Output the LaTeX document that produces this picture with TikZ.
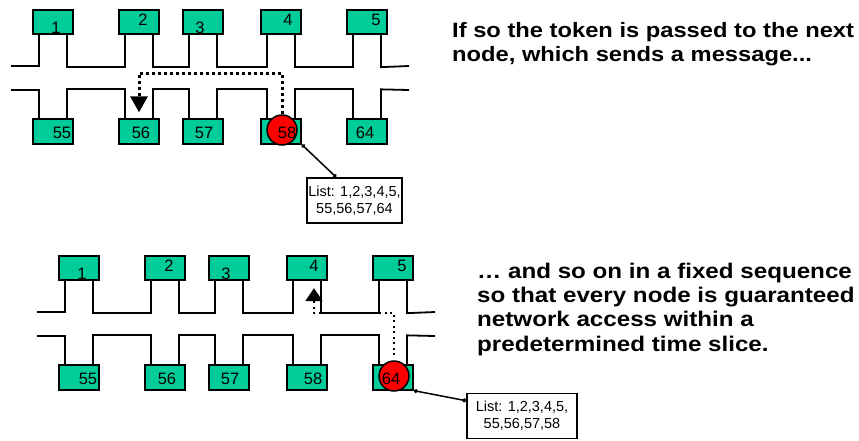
\documentclass[tikz,border=0pt]{standalone}
\usepackage{fontspec}
\setmainfont{Liberation Sans}
\newfontfamily\notefont{Liberation Sans}[FakeStretch=1.14]
\usepackage{tikz}
\usetikzlibrary{arrows.meta, calc}
\definecolor{stationgreen}{RGB}{0,204,153}
\tikzset{
  station/.style={draw, line width=1.8pt, fill=stationgreen, minimum width=40pt, minimum height=24.5pt, inner sep=0pt},
  tap/.style={line width=1.8pt},
  tag/.style={inner sep=0pt, font=\fontsize{16.5}{18}\selectfont},
  token/.style={circle, draw, line width=1.5pt, fill=red, minimum size=30pt, inner sep=0pt},
  hopbig/.style={line width=3pt, dash pattern=on 3pt off 3pt, -{Triangle[width=17pt,length=16pt]}},
  hopsmall/.style={line width=2pt, dash pattern=on 2pt off 3.5pt, -{Triangle[width=17pt,length=13pt]}},
  tieline/.style={line width=1.5pt, {Circle[length=4pt]}-{Circle[length=4pt]}},
  listbox/.style={draw, line width=1.5pt, fill=white, align=center, inner sep=0pt, minimum height=45pt, font=\fontsize{14.5}{16.7}\selectfont},
  note/.style={inner sep=0pt, align=left, anchor=base west}
}
\begin{document}
\begin{tikzpicture}[x=1pt, y=-1pt]
  \useasboundingbox (0,0) rectangle (859,440);
  \foreach \d/\sx/\sy/\t in {A/0/0/58, B/26/246/64} {
    \begin{scope}[shift={(\sx,\sy)}]
      \foreach \n/\x in {1/53, 2/139, 3/203, 4/281, 5/367}
        \node[station] (\d\n) at (\x,22) {};
      \foreach \n/\x in {55/53, 56/139, 57/203, 58/281, 64/367}
        \node[station] (\d\n) at (\x,131.5) {};
      % upper and lower rails
      \draw[tap] (11,66) -| ($(\d1.south)+(-14,0)$);
      \foreach \l/\r in {1/2, 2/3, 3/4, 4/5}
        \draw[tap] ($(\d\l.south)+(14,0)$) -- ++(0,32) -| ($(\d\r.south)+(-14,0)$);
      \draw[tap] ($(\d5.south)+(14,0)$) -- ++(0,32) -- (409,66);
      \draw[tap] (11,90) -| ($(\d55.north)+(-14,0)$);
      \foreach \l/\r in {55/56, 56/57, 57/58, 58/64}
        \draw[tap] ($(\d\l.north)+(14,0)$) -- ++(0,-29) -| ($(\d\r.north)+(-14,0)$);
      \draw[tap] ($(\d64.north)+(14,0)$) -- ++(0,-29) -- (409,90);
      \node[token] (tok\d) at ($(\d\t)+(1,-1.5)$) {};
      \foreach \n/\dx/\dy in {1/3/6, 2/4/-2, 3/-3/6, 4/7/-2, 5/9/-2, 55/9/1.5, 56/2/1.5, 57/1/1.5, 58/6/1.5, 64/-2/1.5}
        \node[tag] (num\n\d) at ($(\d\n)+(\dx,\dy)$) {\n};
    \end{scope}
  }
  \coordinate (hopA) at (139,73);
  \draw[hopbig] (tokA.north) |- (hopA) -- ([yshift=6pt]A56.north);
  \coordinate (hopB) at (314,313);
  \draw[hopsmall, shorten <=5pt] (tokB.north) |- (hopB) -- ($(hopB |- B4.south)+(0,7)$);
  \node[listbox, minimum width=95pt] (listA) at (354.5,200.5) {List: 1,2,3,4,5,\\55,56,57,64};
  \node[listbox, minimum width=110pt] (listB) at (522,416) {List: 1,2,3,4,5,\\55,56,57,58};
  \draw[tieline] (A58.south east) -- ([xshift=30pt]listA.north west);
  \draw[tieline] (B64.south east) -- ([yshift=-8pt]listB.north west);
  \node[note, font=\notefont\bfseries\fontsize{20.8}{24}\selectfont] (noteA) at (452,61)
    {If so the token is passed to the next\\node, which sends a message...};
  \node[note, font=\notefont\bfseries\fontsize{21.2}{24.3}\selectfont] (noteB) at (477,351.2)
    {… and so on in a fixed sequence\\so that every node is guaranteed\\network access within a\\predetermined time slice.};
\end{tikzpicture}
\end{document}
